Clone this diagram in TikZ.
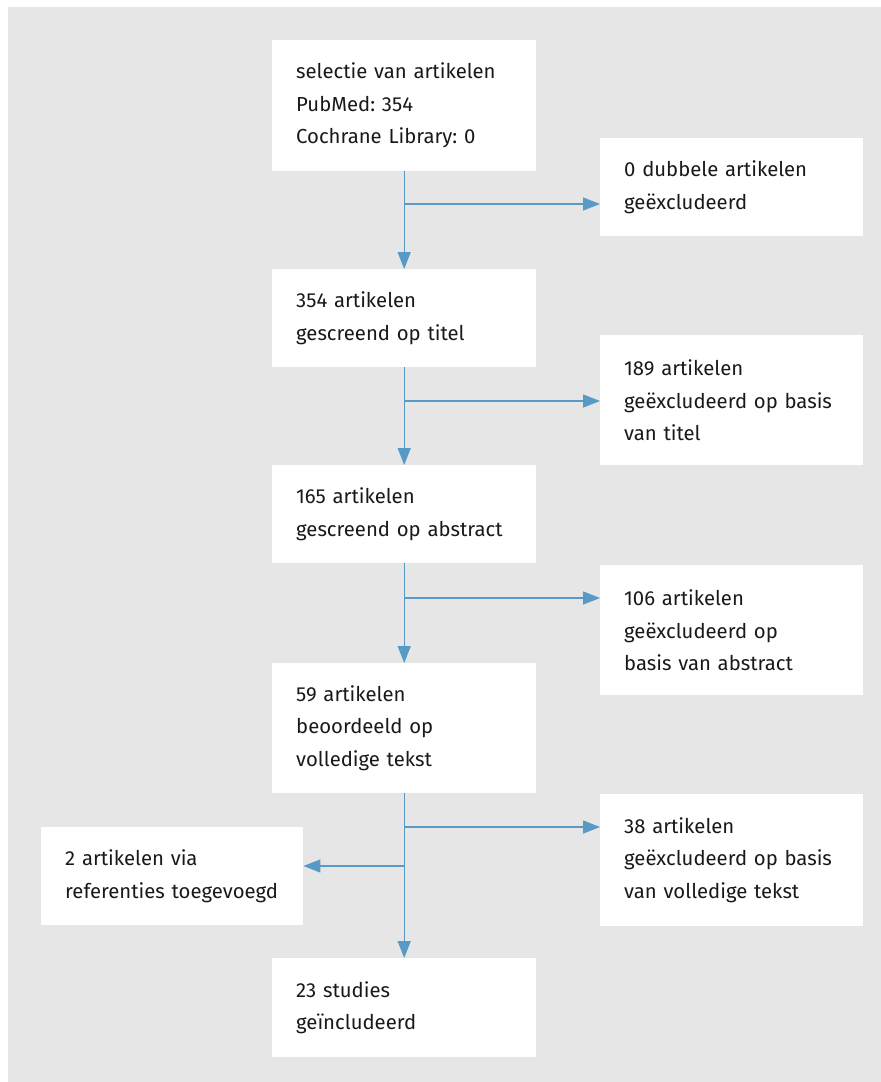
\documentclass[tikz,border=0pt]{standalone}
\usepackage{fontspec}
\setmainfont{Fira Sans}
\usetikzlibrary{arrows.meta}
\definecolor{bggrey}{RGB}{230,230,230}
\definecolor{lineblue}{RGB}{88,154,198}
\frenchspacing
\tikzset{
  box/.style={fill=white, draw=none, anchor=north west, align=left, inner xsep=24pt, inner ysep=0pt,
    font=\fontsize{20.3pt}{32.5pt}\selectfont\frenchspacing, text=black!90},
  conn/.style={draw=lineblue, line width=1.4pt, -{Triangle[length=17pt,width=13pt]}}
}
\begin{document}
\begin{tikzpicture}[x=1pt,y=-1pt]
\useasboundingbox (0,0) rectangle (881,1082);
\fill[bggrey] (8,7) rectangle (881,1082);
% main column
\node[box, minimum width=264pt, minimum height=131pt, text width=216pt] (b1) at (272,40) {selectie van artikelen\\PubMed: 354\\Cochrane Library: 0};
\node[box, minimum width=264pt, minimum height=98pt, text width=216pt] (b2) at (272,269) {354 artikelen\\gescreend op titel};
\node[box, minimum width=264pt, minimum height=98pt, text width=216pt] (b3) at (272,465) {165 artikelen\\gescreend op abstract};
\node[box, minimum width=264pt, minimum height=130pt, text width=216pt] (b4) at (272,663) {59 artikelen\\beoordeeld op\\volledige tekst};
\node[box, minimum width=264pt, minimum height=99pt, text width=216pt] (b5) at (272,958) {23 studies\\geïncludeerd};
% right column
\node[box, minimum width=263pt, minimum height=98pt, text width=215pt] (r1) at (600,138) {0 dubbele artikelen\\geëxcludeerd};
\node[box, minimum width=263pt, minimum height=130pt, text width=215pt] (r2) at (600,335) {189 artikelen\\geëxcludeerd op basis\\van titel};
\node[box, minimum width=263pt, minimum height=130pt, text width=215pt] (r3) at (600,565) {106 artikelen\\geëxcludeerd op\\basis van abstract};
\node[box, minimum width=263pt, minimum height=132pt, text width=215pt] (r4) at (600,794) {38 artikelen\\geëxcludeerd op basis\\van volledige tekst};
% left box
\node[box, minimum width=262pt, minimum height=98pt, text width=214pt] (l1) at (41,827) {2 artikelen via\\referenties toegevoegd};
% junctions
\coordinate (j1) at (404,204);
\coordinate (j2) at (404,401);
\coordinate (j3) at (404,598);
\coordinate (j4) at (404,827);
\coordinate (j5) at (404,866);
% connectors
\draw[conn] (b1.south) -- (b2.north);
\draw[conn] (j1) -- (j1 -| r1.west);
\draw[conn] (b2.south) -- (b3.north);
\draw[conn] (j2) -- (j2 -| r2.west);
\draw[conn] (b3.south) -- (b4.north);
\draw[conn] (j3) -- (j3 -| r3.west);
\draw[conn] (b4.south) -- (b5.north);
\draw[conn] (j4) -- (j4 -| r4.west);
\draw[conn] (j5) -- (j5 -| l1.east);
\end{tikzpicture}
\end{document}
